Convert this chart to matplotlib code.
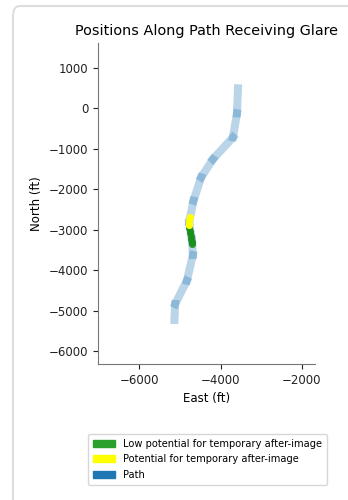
import matplotlib
matplotlib.use("Agg")
import matplotlib.pyplot as plt
from matplotlib.patches import Patch, FancyBboxPatch

# Path vertices (ft)
path_east = [-3570, -3595, -3694, -4188, -4477, -4667, -4773, -4706, -4681, -4830, -5119, -5136]
path_north = [500, -119, -713, -1257, -1703, -2282, -2817, -3255, -3626, -4262, -4839, -5235]

# Glare receptor points
yellow_east = [-4750, -4765, -4775, -4775]
yellow_north = [-2690, -2760, -2830, -2890]
green_east = [-4768, -4755, -4742, -4730, -4718, -4708, -4700]
green_north = [-2950, -3020, -3090, -3160, -3230, -3300, -3360]

legend_labels = ["Low potential for temporary after-image",
                 "Potential for temporary after-image",
                 "Path"]

x_ticks = [-6000, -4000, -2000]
y_ticks = [-6000, -5000, -4000, -3000, -2000, -1000, 0, 1000]

fig = plt.figure(figsize=(3.48, 5.0), dpi=100)

# card frame
card = FancyBboxPatch((13 / 348, 1 - 560 / 500), 400 / 348, 554 / 500,
                      boxstyle="round,pad=0,rounding_size=0.02",
                      transform=fig.transFigure, facecolor="white",
                      edgecolor="#dddddd", linewidth=1.5, zorder=-10)
fig.patches.append(card)

ax = fig.add_axes([98 / 348, 1 - 364 / 500, 217 / 348, 321 / 500])
ax.set_zorder(5)
ax.set_facecolor("none")

for i in range(len(path_east) - 1):
    ax.plot(path_east[i:i + 2], path_north[i:i + 2], color="tab:blue",
            alpha=0.3, linewidth=5.8, solid_capstyle="projecting", zorder=2)

ax.scatter(green_east, green_north, color="#1a8f1a", marker="o", s=26,
           linewidths=0, alpha=0.9, zorder=3)
ax.scatter(yellow_east, yellow_north, color="yellow", marker="o", s=26,
           linewidths=0, zorder=4)

ax.set_xlim(-7020, -1672)
ax.set_ylim(-6324, 1621)
ax.set_xticks(x_ticks)
ax.set_yticks(y_ticks)
ax.tick_params(labelsize=8.5, colors="#222222")
for s in ["top", "right"]:
    ax.spines[s].set_visible(False)
for s in ["left", "bottom"]:
    ax.spines[s].set_color("#777777")
ax.set_xlabel("East (ft)", fontsize=8.5)
ax.set_ylabel("North (ft)", fontsize=8.5)
ax.set_title("Positions Along Path Receiving Glare", fontsize=10.4)

handles = [Patch(color="tab:green"), Patch(color="yellow"), Patch(color="tab:blue")]
leg = fig.legend(handles, legend_labels, loc="upper center",
                 bbox_to_anchor=(207.5 / 348, 1 - 429 / 500), fontsize=7.1,
                 frameon=True, handlelength=2.2, labelspacing=0.55,
                 borderpad=0.5)
leg.set_zorder(6)

fig.savefig("out.png", dpi=100)
